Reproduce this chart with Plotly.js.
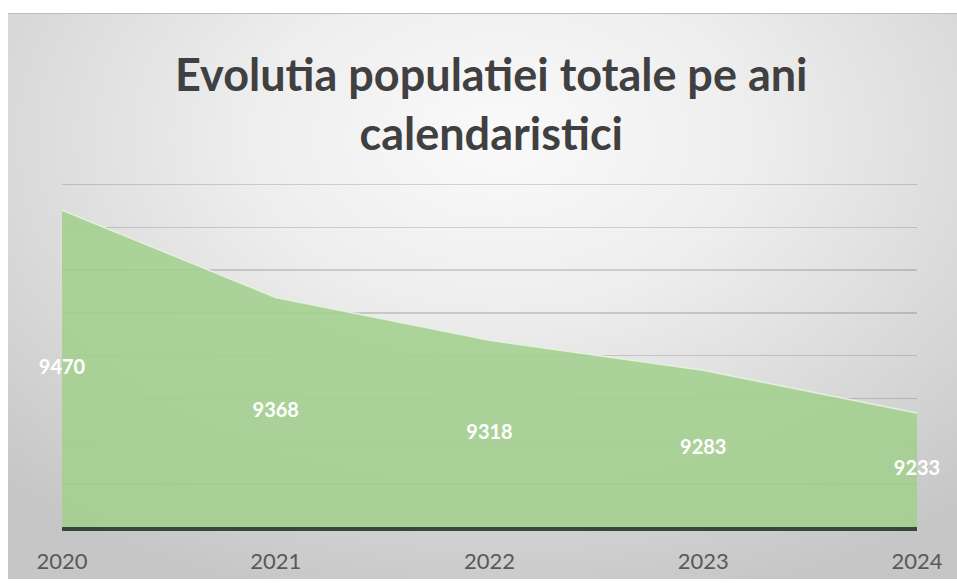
<!DOCTYPE html>
<html>
<head>
<meta charset="utf-8">
<script src="https://cdn.plot.ly/plotly-3.0.1.min.js"></script>
<style>
  html, body { margin:0; padding:0; background:#ffffff; }
  #frame { position:absolute; left:8px; top:13px; width:949px; height:565px;
    background: radial-gradient(ellipse 75% 85% at 52% 22%, #fafafa 0%, #eeeeee 35%, #d9d9d9 70%, #c6c6c6 100%);
    border-top:1px solid #bdbdbd; }
  #chart { position:absolute; left:0; top:0; width:957px; height:583px; }
</style>
</head>
<body>
<div id="frame"></div>
<div id="chart"></div>
<script>
const years = ['2020', '2021', '2022', '2023', '2024'];
const population = [9470, 9368, 9318, 9283, 9233];
const axisMin = 9100;
const axisMax = 9500;
const titleText = 'Evolutia populatiei totale pe ani<br>calendaristici';

const xIdx = years.map((_, i) => i);
const labelY = population.map(v => (v + axisMin) / 2);

const area = {
  x: xIdx, y: population, type: 'scatter', mode: 'lines',
  fill: 'tozeroy', fillcolor: 'rgba(163,208,142,0.88)',
  line: { color: '#e4f1dc', width: 1.5 },
  hoverinfo: 'skip', showlegend: false
};
const labels = {
  x: xIdx, y: labelY, type: 'scatter', mode: 'text',
  text: population.map(String), textposition: 'middle center',
  textfont: { family: 'Lato, "Open Sans", sans-serif', size: 20, color: '#ffffff', weight: 'bold' },
  hoverinfo: 'skip', showlegend: false, cliponaxis: false
};

const layout = {
  width: 957, height: 583,
  paper_bgcolor: 'rgba(0,0,0,0)', plot_bgcolor: 'rgba(0,0,0,0)',
  margin: { l: 62, r: 40, t: 181, b: 56 },
  xaxis: {
    range: [0, years.length - 1], tickvals: xIdx, ticktext: years,
    showgrid: false, zeroline: false, ticks: '',
    showline: true, linecolor: '#3a463a', linewidth: 4,
    tickfont: { family: 'Lato, "Open Sans", sans-serif', size: 22, color: '#595959' },
    ticklabelstandoff: 12, fixedrange: true
  },
  yaxis: {
    range: [axisMin, axisMax + 4], dtick: 50, showticklabels: false,
    showgrid: true, gridcolor: 'rgba(0,0,0,0.15)', gridwidth: 1.5,
    zeroline: false, showline: false, ticks: '', fixedrange: true
  },
  annotations: [{
    text: titleText, xref: 'paper', yref: 'paper', x: 0.502, y: 1.225,
    xanchor: 'center', yanchor: 'middle', showarrow: false,
    font: { family: 'Lato, "Open Sans", sans-serif', size: 45, color: '#404040', weight: 'bold' }
  }]
};

Plotly.newPlot('chart', [area, labels], layout, { displayModeBar: false, staticPlot: true });
</script>
</body>
</html>
